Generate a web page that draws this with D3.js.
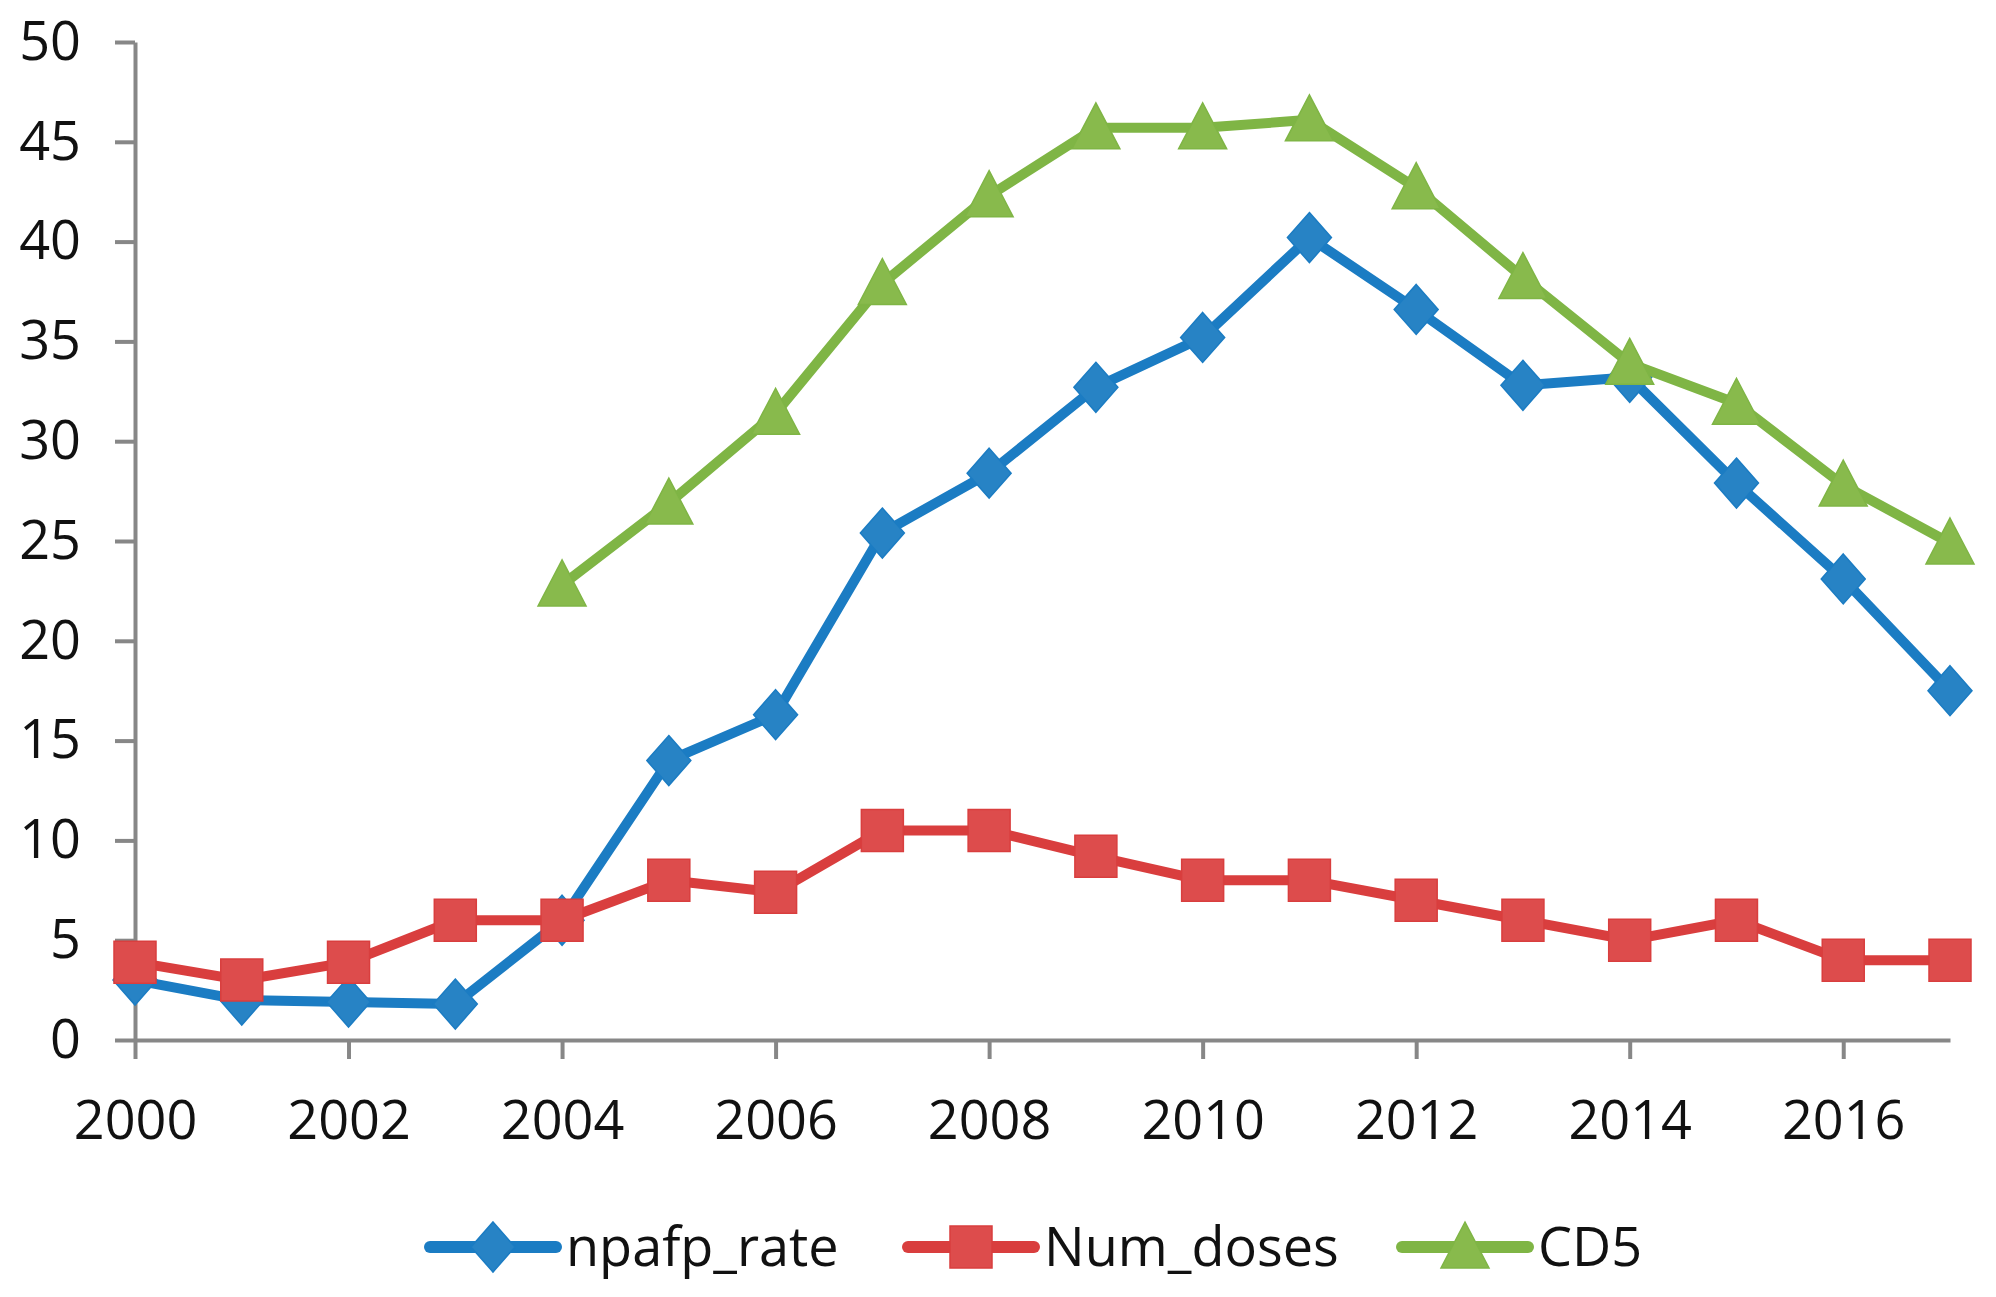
<!DOCTYPE html>
<html>
<head>
<meta charset="utf-8">
<script src="https://cdn.jsdelivr.net/npm/d3@7"></script>
<style>
    body { margin: 0; background: #fff; }
    text { font-family: "Open Sans", sans-serif; fill: #111; }
</style>
</head>
<body>
<script>
'use strict';
const years = [2000,2001,2002,2003,2004,2005,2006,2007,2008,2009,2010,2011,2012,2013,2014,2015,2016,2017]
const npafp_rate = [3.0,2.0,1.9,1.8,6.0,14.0,16.3,25.4,28.4,32.7,35.2,40.2,36.6,32.8,33.2,27.9,23.1,17.5]
const num_doses = [3.9,3.0,3.9,6.0,6.0,8.0,7.4,10.5,10.5,9.2,8.0,8.0,7.0,6.0,5.0,6.0,4.0,4.0]
const cd5 = [null,null,null,null,22.8,26.9,31.4,37.9,42.3,45.7,45.7,46.1,42.7,38.2,33.9,31.9,27.8,24.9]
const yTicks = [0,5,10,15,20,25,30,35,40,45,50]
const xTicks = [2000,2002,2004,2006,2008,2010,2012,2014,2016]

const seriesList = [
    {name: "npafp_rate", values: npafp_rate, line: "#1b7cc3", fill: "#2783c5", shape: "diamond"},
    {name: "Num_doses", values: num_doses, line: "#d93e3e", fill: "#dd4c4c", shape: "square"},
    {name: "CD5", values: cd5, line: "#7fb545", fill: "#88ba4c", shape: "triangle"}
]

const width = 1996
const height = 1297
let svg = d3.select("body").append("svg")
    .attr("width", width)
    .attr("height", height)

let x = d3.scaleLinear().domain([2000, 2017]).range([135, 1950])
let y = d3.scaleLinear().domain([0, 50]).range([1040, 42])

// markers, drawn around (0,0)
function markerPath(shape){
    if(shape === "diamond") return "M0,-25L22,0L0,25L-22,0Z"
    if(shape === "square") return "M-21,-21H21V21H-21Z"
    return "M0,-25L24,21H-24Z"
}

// y axis
let yAxis = svg.append("g")
    .attr("transform", `translate(${x(2000)},0)`)
    .call(d3.axisLeft(y).tickValues(yTicks).tickSize(20).tickSizeOuter(0).tickPadding(34))
yAxis.select(".domain").attr("stroke", "#878787").attr("stroke-width", 4)
yAxis.selectAll(".tick line").attr("stroke", "#878787").attr("stroke-width", 4)
yAxis.selectAll(".tick text").attr("font-size", 54).attr("font-family", "Open Sans").attr("fill", "#111")

// x axis
let xAxis = svg.append("g")
    .attr("transform", `translate(0,${y(0)})`)
    .call(d3.axisBottom(x).tickValues(xTicks).tickFormat(d3.format("d")).tickSize(19).tickSizeOuter(0).tickPadding(42))
xAxis.select(".domain").attr("stroke", "#878787").attr("stroke-width", 4)
xAxis.selectAll(".tick line").attr("stroke", "#878787").attr("stroke-width", 4)
xAxis.selectAll(".tick text").attr("font-size", 54).attr("font-family", "Open Sans").attr("fill", "#111")

let line = d3.line()
    .defined(d => d.v !== null)
    .x(d => x(d.year))
    .y(d => y(d.v))

seriesList.forEach(function(s){
    let pts = years.map((yr, i) => ({year: yr, v: s.values[i]}))
    let g = svg.append("g")
    g.append("path")
        .datum(pts)
        .attr("d", line)
        .attr("fill", "none")
        .attr("stroke", s.line)
        .attr("stroke-width", 10)
        .attr("stroke-linejoin", "round")
    g.selectAll(".mark")
        .data(pts.filter(d => d.v !== null))
        .enter()
        .append("path")
        .attr("d", markerPath(s.shape))
        .attr("transform", d => `translate(${x(d.year)},${y(d.v)})`)
        .attr("fill", s.fill)
        .attr("stroke", s.line)
        .attr("stroke-width", 1.5)
})

// legend
const legendX = [430, 908, 1402]
const legendY = 1247
let legend = svg.append("g")
seriesList.forEach(function(s, i){
    let lg = legend.append("g").attr("transform", `translate(${legendX[i]},${legendY})`)
    lg.append("line")
        .attr("x1", 0).attr("x2", 126)
        .attr("stroke", s.line)
        .attr("stroke-width", 12)
        .attr("stroke-linecap", "round")
    lg.append("path")
        .attr("d", markerPath(s.shape))
        .attr("transform", "translate(63,0)")
        .attr("fill", s.fill)
        .attr("stroke", s.line)
        .attr("stroke-width", 1.5)
    lg.append("text")
        .attr("x", 136)
        .attr("y", 0)
        .attr("dy", "0.35em")
        .attr("font-size", 54)
        .text(s.name)
})
</script>
</body>
</html>
